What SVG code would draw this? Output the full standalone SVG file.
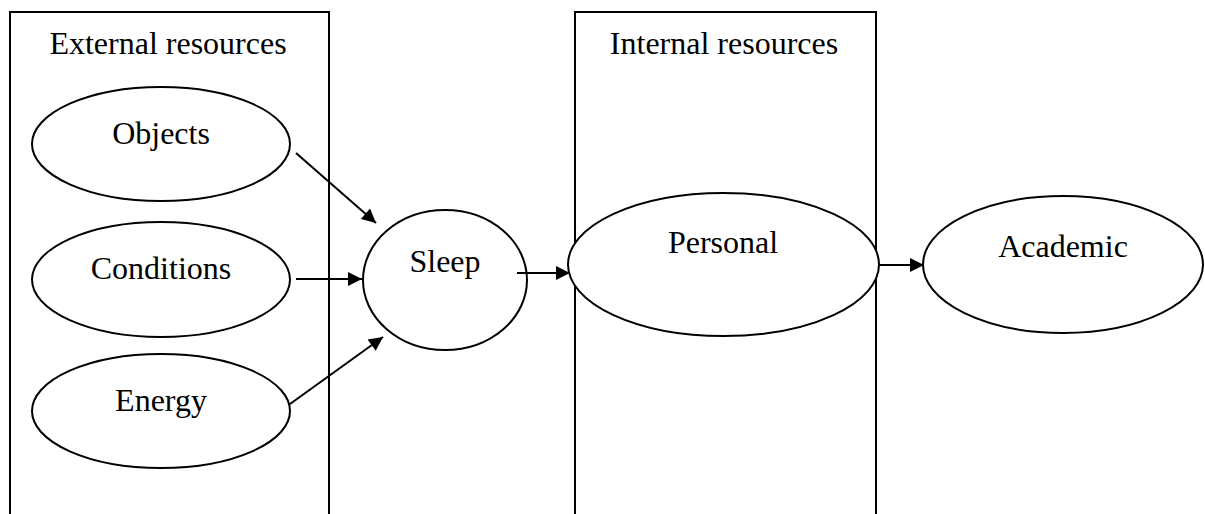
<svg xmlns="http://www.w3.org/2000/svg" width="1205" height="514" viewBox="0 0 1205 514">
<style>
.frame{fill:none;stroke:#000;stroke-width:2}
.node{fill:#fff;stroke:#000;stroke-width:2}
.lbl{font-family:"Liberation Serif","Times New Roman",serif;font-size:32px;fill:#000;text-anchor:middle}
.conn{stroke:#000;stroke-width:2;fill:none;marker-end:url(#ah)}
</style>
<defs>
<marker id="ah" viewBox="0 0 10 10" refX="10" refY="5" markerWidth="8" markerHeight="7" markerUnits="strokeWidth" orient="auto">
<path d="M0,0 L10,5 L0,10 Z" fill="#000"/>
</marker>
</defs>
<rect width="1205" height="514" fill="#fff"/>
<g id="external-box">
<path class="frame" d="M10,514 V12 H329 V514"/>
<text class="lbl" x="168" y="54">External resources</text>
</g>
<g id="internal-box">
<path class="frame" d="M575,514 V12 H876 V514"/>
<text class="lbl" x="724" y="54">Internal resources</text>
</g>
<g id="objects">
<ellipse class="node" cx="161" cy="144" rx="129" ry="57"/>
<text class="lbl" x="161" y="144">Objects</text>
</g>
<g id="conditions">
<ellipse class="node" cx="161" cy="279.5" rx="129" ry="57.5"/>
<text class="lbl" x="161" y="279">Conditions</text>
</g>
<g id="energy">
<ellipse class="node" cx="161" cy="411" rx="129" ry="57"/>
<text class="lbl" x="161" y="411">Energy</text>
</g>
<g id="sleep">
<ellipse class="node" cx="445" cy="280" rx="82" ry="70"/>
<text class="lbl" x="445" y="272">Sleep</text>
</g>
<g id="personal">
<ellipse class="node" cx="723.5" cy="264.5" rx="155.5" ry="71.5"/>
<text class="lbl" x="723" y="253">Personal</text>
</g>
<g id="academic">
<ellipse class="node" cx="1063" cy="264.5" rx="140" ry="68.5"/>
<text class="lbl" x="1063" y="257">Academic</text>
</g>
<g id="connectors">
<line class="conn" x1="296" y1="153" x2="376" y2="223"/>
<line class="conn" x1="296" y1="279" x2="362" y2="279"/>
<line class="conn" x1="290" y1="404" x2="383" y2="337"/>
<line class="conn" x1="517" y1="273" x2="570" y2="273"/>
<line class="conn" x1="879" y1="265" x2="924" y2="265"/>
</g>
</svg>
